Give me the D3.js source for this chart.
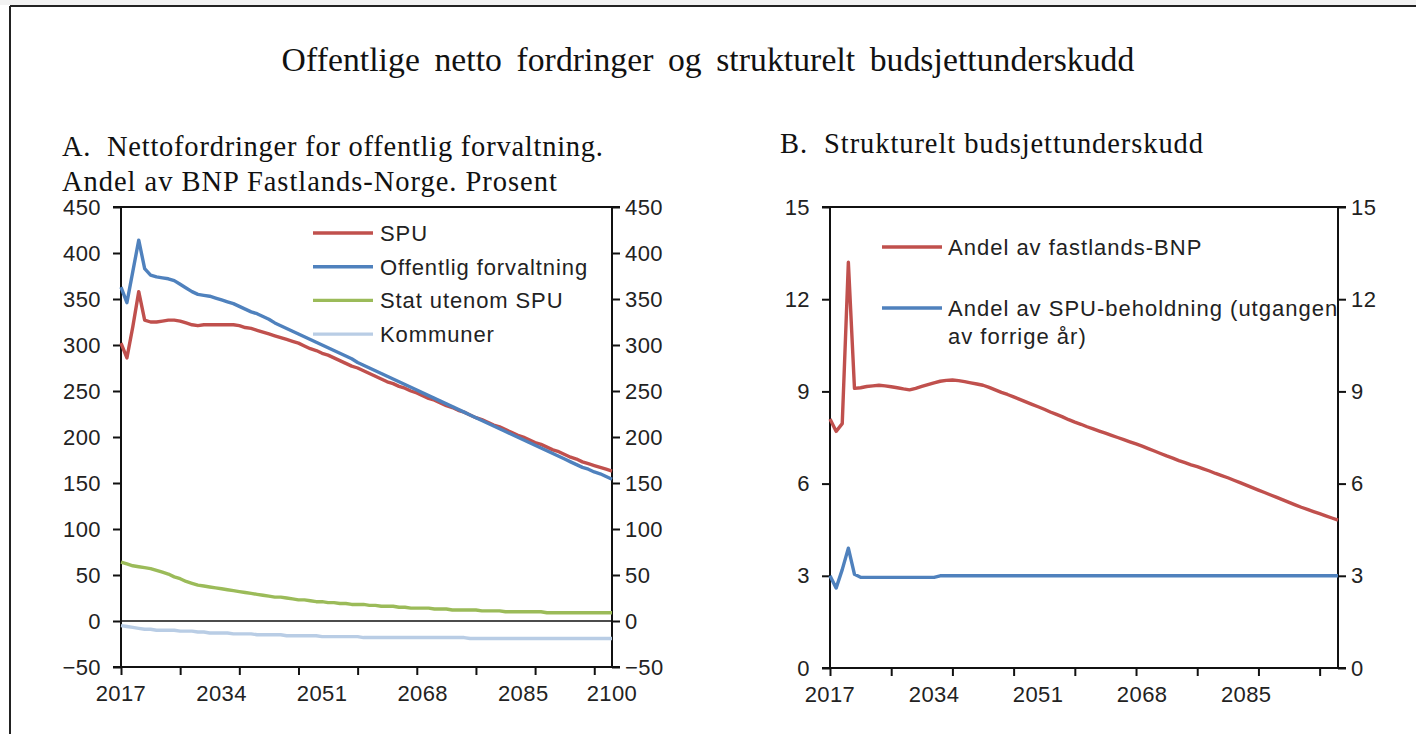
<!DOCTYPE html>
<html><head><meta charset="utf-8">
<script src="https://cdn.jsdelivr.net/npm/d3@7"></script>
<style>
body{margin:0;background:#fff;}
svg{display:block;}
text{white-space:pre;}
</style></head>
<body>
<svg id="c" width="1416" height="734"></svg>
<script>
// ---------------- DATA ----------------
const years = d3.range(2017, 2101);

const spu = [302,286,320,358,327,325,325,326,327,327,326,324,322,321,322,322,322,322,322,322,321,319,318,316,314,312,310,308,306,304,302,299,296,294,291,289,286,283,280,277,275,272,269,266,263,260,258,255,253,250,248,245,242,240,237,234,232,229,227,224,221,219,216,213,211,208,205,202,200,197,194,192,189,186,184,181,178,176,173,171,169,167,165,163];

const offentlig = [363,346,380,414,383,376,374,373,372,370,366,362,358,355,354,353,351,349,347,345,342,339,336,334,331,328,324,321,318,315,312,309,306,303,300,297,294,291,288,285,281,278,275,272,269,266,263,260,257,254,251,248,245,242,239,236,233,230,227,224,221,218,215,212,209,206,203,200,197,194,191,188,185,182,179,176,173,170,167,165,162,160,157,154];

const statUtenom = [64,62,60,59,58,57,55,53,51,48,46,43,41,39,38,37,36,35,34,33,32,31,30,29,28,27,26,26,25,24,23,23,22,21,21,20,20,19,19,18,18,18,17,17,16,16,16,15,15,14,14,14,14,13,13,13,12,12,12,12,12,11,11,11,11,10,10,10,10,10,10,10,9,9,9,9,9,9,9,9,9,9,9,9];

const kommuner = [-5,-6,-7,-8,-9,-9,-10,-10,-10,-10,-11,-11,-11,-12,-12,-13,-13,-13,-13,-14,-14,-14,-14,-15,-15,-15,-15,-15,-16,-16,-16,-16,-16,-16,-17,-17,-17,-17,-17,-17,-17,-18,-18,-18,-18,-18,-18,-18,-18,-18,-18,-18,-18,-18,-18,-18,-18,-18,-18,-19,-19,-19,-19,-19,-19,-19,-19,-19,-19,-19,-19,-19,-19,-19,-19,-19,-19,-19,-19,-19,-19,-19,-19,-19];

const andelBNP = [8.10,7.70,7.95,13.20,9.10,9.12,9.16,9.18,9.20,9.18,9.15,9.12,9.08,9.05,9.10,9.16,9.22,9.28,9.33,9.36,9.37,9.35,9.32,9.28,9.24,9.20,9.13,9.05,8.97,8.90,8.82,8.74,8.66,8.58,8.50,8.42,8.33,8.25,8.17,8.08,8.00,7.93,7.85,7.78,7.71,7.64,7.57,7.50,7.43,7.36,7.29,7.22,7.14,7.06,6.98,6.90,6.83,6.75,6.68,6.61,6.55,6.48,6.41,6.33,6.26,6.19,6.11,6.03,5.95,5.87,5.79,5.71,5.63,5.55,5.47,5.39,5.31,5.23,5.16,5.09,5.02,4.95,4.88,4.81];

const andelSPU = [3.0,2.6,3.2,3.9,3.05,2.95,2.95,2.95,2.95,2.95,2.95,2.95,2.95,2.95,2.95,2.95,2.95,2.95,3.0,3.0,3.0,3.0,3.0,3.0,3.0,3.0,3.0,3.0,3.0,3.0,3.0,3.0,3.0,3.0,3.0,3.0,3.0,3.0,3.0,3.0,3.0,3.0,3.0,3.0,3.0,3.0,3.0,3.0,3.0,3.0,3.0,3.0,3.0,3.0,3.0,3.0,3.0,3.0,3.0,3.0,3.0,3.0,3.0,3.0,3.0,3.0,3.0,3.0,3.0,3.0,3.0,3.0,3.0,3.0,3.0,3.0,3.0,3.0,3.0,3.0,3.0,3.0,3.0,3.0];

const yTicksA = [-50,0,50,100,150,200,250,300,350,400,450];
const yTicksB = [0,3,6,9,12,15];
const xLabelsA = [2017,2034,2051,2068,2085,2100];
const xLabelsB = [2017,2034,2051,2068,2085];
const xTickMarks = d3.range(2017, 2100, 10);

const mainTitle = "Offentlige netto fordringer og strukturelt budsjettunderskudd";
const titleA1 = "A.  Nettofordringer for offentlig forvaltning.";
const titleA2 = "Andel av BNP Fastlands-Norge. Prosent";
const titleB = "B.  Strukturelt budsjettunderskudd";

const legendA = ["SPU","Offentlig forvaltning","Stat utenom SPU","Kommuner"];
const legendB = [["Andel av fastlands-BNP"],["Andel av SPU-beholdning (utgangen","av forrige år)"]];

const colRed = "#c0504d", colBlue = "#4f81bd", colGreen = "#9bbb59", colLight = "#b9cde5";

// ---------------- DRAW ----------------
const svg = d3.select("#c");
const sans = "'Liberation Sans', Arial, sans-serif";
const serif = "'Liberation Serif', 'Times New Roman', serif";

// frame
svg.append("rect").attr("x",0).attr("y",0).attr("width",1416).attr("height",5).attr("fill","#f2f2f2");
svg.append("line").attr("x1",10).attr("x2",1416).attr("y1",6).attr("y2",6).attr("stroke","#222").attr("stroke-width",2);
svg.append("line").attr("x1",10).attr("x2",10).attr("y1",6).attr("y2",734).attr("stroke","#222").attr("stroke-width",2);

// serif titles: font size fitted to target width, any remainder as letter spacing
function serifText(txt, x, y, anchor, target, size, maxSize, ws){
  const t = svg.append("text").attr("x",x).attr("y",y).attr("text-anchor",anchor)
    .attr("font-family",serif).attr("font-size",size).attr("word-spacing",ws).attr("fill","#111").text(txt);
  let w = t.node().getComputedTextLength();
  let s = Math.min(maxSize, size*target/w);
  t.attr("font-size",s.toFixed(2));
  w = t.node().getComputedTextLength();
  if (w < target - 2) t.attr("letter-spacing", ((target-w)/(txt.length-1)).toFixed(2) + "px");
  return t;
}
serifText(mainTitle, 708, 71, "middle", 853, 30, 34, 6);
serifText(titleA1, 62, 156, "start", 541, 25, 28.5, 0);
serifText(titleA2, 62, 191, "start", 495, 25, 28.5, 0);
serifText(titleB, 780, 153, "start", 423, 25, 28.5, 0);

function panel(opt){
  const g = svg.append("g");
  const x = d3.scaleLinear().domain([2017,2100]).range([opt.left,opt.right]);
  const y = d3.scaleLinear().domain(opt.yDomain).range([opt.bottom,opt.top]);

  const la = d3.axisLeft(y).tickValues(opt.yTicks).tickSize(8).tickPadding(12);
  const lg = g.append("g").attr("transform",`translate(${opt.left},0)`).call(la);
  const ra = d3.axisRight(y).tickValues(opt.yTicks).tickSize(8).tickPadding(5);
  const rg = g.append("g").attr("transform",`translate(${opt.right},0)`).call(ra);
  const ba = d3.axisBottom(x).tickValues(xTickMarks).tickSize(8).tickFormat("");
  const bg = g.append("g").attr("transform",`translate(0,${opt.bottom})`).call(ba);
  [lg,rg,bg].forEach(a=>{
    a.select(".domain").attr("stroke","#111").attr("stroke-width",2);
    a.selectAll(".tick line").attr("stroke","#111").attr("stroke-width",2);
    a.selectAll("text").attr("font-family",sans).attr("font-size",22).attr("letter-spacing","0.4px").attr("fill","#222");
  });
  lg.select(".domain").attr("d",`M-8,${opt.top}H0V${opt.bottom}H-8`);
  rg.select(".domain").attr("d",`M8,${opt.top}H0V${opt.bottom}H8`);
  bg.select(".domain").attr("d",`M${opt.left},0H${opt.right}`);
  g.append("line").attr("x1",opt.left).attr("x2",opt.right).attr("y1",opt.top).attr("y2",opt.top)
    .attr("stroke","#111").attr("stroke-width",2);
  g.append("g").selectAll("text").data(opt.xLabels).join("text")
    .attr("x",d=>x(d)).attr("y",opt.bottom+34).attr("text-anchor","middle")
    .attr("font-family",sans).attr("font-size",22).attr("letter-spacing","0.4px").attr("fill","#222").text(d=>d);
  if(opt.zero){
    g.append("line").attr("x1",opt.left).attr("x2",opt.right).attr("y1",y(0)).attr("y2",y(0))
      .attr("stroke","#111").attr("stroke-width",1.5);
  }
  const line = d3.line().x((d,i)=>x(years[i])).y(d=>y(d));
  opt.series.forEach(s=>{
    g.append("path").datum(s.values).attr("d",line).attr("fill","none")
      .attr("stroke",s.color).attr("stroke-width",3.4).attr("stroke-linejoin","round");
  });
  return {x,y,g};
}

panel({left:121,right:612,top:207,bottom:667,yDomain:[-50,450],yTicks:yTicksA,xLabels:xLabelsA,zero:true,
  series:[{values:kommuner,color:colLight},{values:statUtenom,color:colGreen},{values:spu,color:colRed},{values:offentlig,color:colBlue}]});

panel({left:830,right:1338,top:207,bottom:668,yDomain:[0,15],yTicks:yTicksB,xLabels:xLabelsB,zero:false,
  series:[{values:andelSPU,color:colBlue},{values:andelBNP,color:colRed}]});

// legend A
const colsA = [colRed,colBlue,colGreen,colLight];
const lA = svg.append("g");
legendA.forEach((t,i)=>{
  const yy = 233 + i*33.7;
  lA.append("line").attr("x1",313).attr("x2",373).attr("y1",yy).attr("y2",yy).attr("stroke",colsA[i]).attr("stroke-width",3.4);
  lA.append("text").attr("x",380).attr("y",yy+8).attr("font-family",sans).attr("font-size",22)
    .attr("letter-spacing","0.9px").attr("fill","#222").text(t);
});
// legend B
const colsB = [colRed,colBlue];
const lyB = [247,308];
const lB = svg.append("g");
legendB.forEach((lines,i)=>{
  lB.append("line").attr("x1",882).attr("x2",942).attr("y1",lyB[i]).attr("y2",lyB[i]).attr("stroke",colsB[i]).attr("stroke-width",3.4);
  lines.forEach((t,j)=>{
    lB.append("text").attr("x",948).attr("y",lyB[i]+8+j*28).attr("font-family",sans).attr("font-size",22)
      .attr("letter-spacing","1px").attr("fill","#222").text(t);
  });
});
</script>
</body></html>
